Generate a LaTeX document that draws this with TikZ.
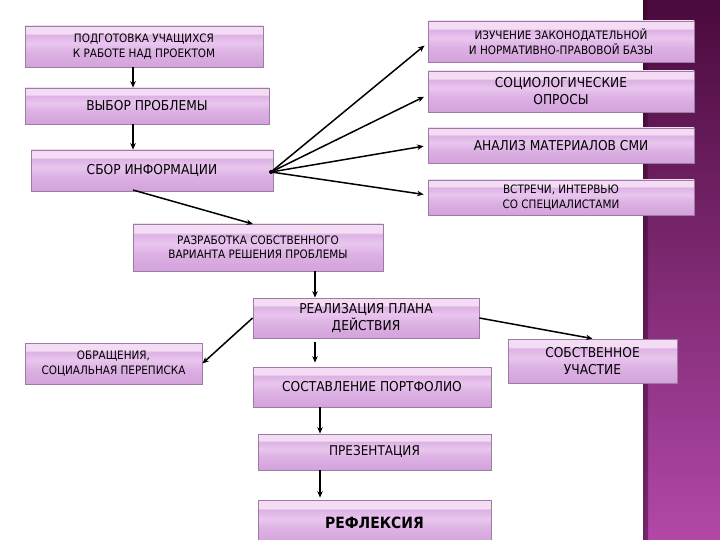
\documentclass[tikz,border=0pt]{standalone}
\usepackage{fontspec}
\setmainfont{DejaVu Sans}[FakeStretch=0.9]
\usetikzlibrary{arrows.meta}
\definecolor{btop}{HTML}{F4DCF4}
\definecolor{bhi}{HTML}{E9C6EE}
\definecolor{bmid}{HTML}{DDB2E4}
\definecolor{bbot}{HTML}{D3A2DB}
\definecolor{bedge}{HTML}{9C7CA4}
\definecolor{bandtop}{HTML}{4A0A3C}
\definecolor{bandbot}{HTML}{B248A8}
\pgfdeclareverticalshading{boxshade}{100bp}{color(0bp)=(bbot); color(25bp)=(bbot); color(44bp)=(bmid); color(54bp)=(bhi); color(64bp)=(bmid); color(66bp)=(btop); color(75bp)=(btop); color(100bp)=(btop)}
\begin{document}
\begin{tikzpicture}[x=1pt,y=-1pt,
  box/.style={draw=bedge, line width=0.8pt, shading=boxshade, inner sep=0pt, align=center, text=black},
  sm/.style={font=\fontsize{11.6}{14.5}\selectfont},
  lg/.style={font=\fontsize{13.6}{17}\selectfont},
  arr/.style={-{Stealth[length=6.5pt,width=5.5pt]}, line width=1.5pt, black}]
\clip (0,0) rectangle (720,540);
\fill[white] (0,0) rectangle (720,540);
% right band
\shade[top color=bandtop, bottom color=bandbot] (643,0) rectangle (720,540);
\shade[left color=black!45!bandtop, right color=bandtop, opacity=0.5] (643,0) rectangle (648,540);

% nodes
\node[box, sm, minimum width=238, minimum height=41] (n1) at (144,46.5) {ПОДГОТОВКА УЧАЩИХСЯ\\К РАБОТЕ НАД ПРОЕКТОМ};
\node[box, lg, minimum width=244, minimum height=36] (n2) at (147,106) {ВЫБОР ПРОБЛЕМЫ};
\node[box, lg, minimum width=242, minimum height=41] (n3) at (152,170.5) {СБОР ИНФОРМАЦИИ};
\node[box, sm, minimum width=266, minimum height=41] (r1) at (561,41.5) {ИЗУЧЕНИЕ ЗАКОНОДАТЕЛЬНОЙ\\И НОРМАТИВНО-ПРАВОВОЙ БАЗЫ};
\node[box, lg, minimum width=266, minimum height=41] (r2) at (561,91.5) {СОЦИОЛОГИЧЕСКИЕ\\ОПРОСЫ};
\node[box, lg, minimum width=266, minimum height=35] (r3) at (561,145.5) {АНАЛИЗ МАТЕРИАЛОВ СМИ};
\node[box, sm, minimum width=266, minimum height=35] (r4) at (561,197.5) {ВСТРЕЧИ, ИНТЕРВЬЮ\\СО СПЕЦИАЛИСТАМИ};
\node[box, sm, minimum width=250, minimum height=47] (n5) at (258,247.5) {РАЗРАБОТКА СОБСТВЕННОГО\\ВАРИАНТА РЕШЕНИЯ ПРОБЛЕМЫ};
\node[box, lg, minimum width=226, minimum height=40] (n6) at (366,318) {РЕАЛИЗАЦИЯ ПЛАНА\\ДЕЙСТВИЯ};
\node[box, sm, minimum width=177, minimum height=41] (obr) at (113.5,363.5) {ОБРАЩЕНИЯ,\\СОЦИАЛЬНАЯ ПЕРЕПИСКА};
\node[box, lg, minimum width=238, minimum height=40] (n7) at (372,387) {СОСТАВЛЕНИЕ ПОРТФОЛИО};
\node[box, lg, minimum width=169, minimum height=44] (sob) at (592.5,361) {СОБСТВЕННОЕ\\УЧАСТИЕ};
\node[box, font=\fontsize{13.4}{16}\selectfont, minimum width=233, minimum height=36] (n8) at (374.5,452) {ПРЕЗЕНТАЦИЯ};
\node[box, font=\fontsize{15.5}{18}\selectfont\bfseries, minimum width=233, minimum height=45] (n9) at (374.5,522.5) {РЕФЛЕКСИЯ};

% guide coordinates
\coordinate (xa) at (133,0);
\coordinate (xb) at (315,0);
\coordinate (xc) at (320,0);
\coordinate (hub) at (271,172);
\coordinate (s3) at (133,190);
\coordinate (t5) at (253,224);

% connectors
\draw[arr] (n1.south -| xa) -- (n2.north -| xa);
\draw[arr] (n2.south -| xa) -- (n3.north -| xa);
\fill (hub) circle (2);
\draw[arr, shorten >=4pt] (hub) -- (r1.west |- 0,43);
\draw[arr, shorten >=4pt] (hub) -- (r2.west |- 0,95);
\draw[arr, shorten >=4pt] (hub) -- (r3.west);
\draw[arr, shorten >=4pt] (hub) -- (r4.west |- 0,195);
\draw[arr] (s3) -- (t5);
\draw[arr] (n5.south -| xb) -- (n6.north -| xb);
\draw[arr] (n6.west) -- (obr.east);
\draw[arr] (n6.east) -- (sob.north);
\draw[arr, shorten <=4pt, shorten >=4pt] (n6.south -| xb) -- (n7.north -| xb);
\draw[arr] (n7.south -| xc) -- (n8.north -| xc);
\draw[arr, shorten >=2pt] (n8.south -| xc) -- (n9.north -| xc);
\end{tikzpicture}
\end{document}
